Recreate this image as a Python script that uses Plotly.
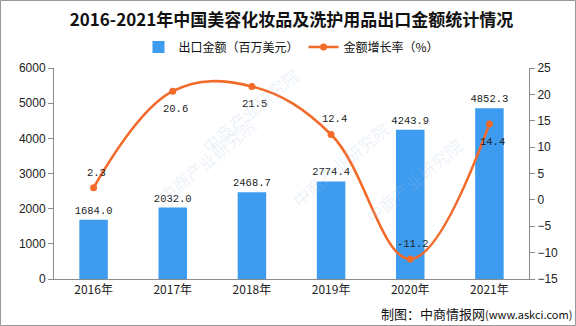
import plotly.graph_objects as go

# 出口金额与增长率数据
years = ["2016年", "2017年", "2018年", "2019年", "2020年", "2021年"]
export_value = [1684.0, 2032.0, 2468.7, 2774.4, 4243.9, 4852.3]
growth_rate = [2.3, 20.6, 21.5, 12.4, -11.2, 14.4]
rate_label_above = [True, False, False, True, True, False]

BAR_COLOR = "#3d9bf0"
LINE_COLOR = "#f26b2a"
AXIS_COLOR = "#8c8c8c"
LABEL_FONT = dict(family="Liberation Mono, monospace", size=10.5, color="#222")

fig = go.Figure()

fig.add_trace(go.Bar(
    x=years, y=export_value, name="出口金额（百万美元）",
    marker=dict(color=BAR_COLOR, line=dict(width=0)),
    width=0.36,
    text=[f"{v:.1f}" for v in export_value], textposition="outside",
    constraintext="none", textfont=LABEL_FONT,
    cliponaxis=False,
))

fig.add_trace(go.Scatter(
    x=years, y=growth_rate, name="金额增长率（%）", yaxis="y2",
    mode="lines+markers",
    line=dict(color=LINE_COLOR, width=2.6, shape="spline", smoothing=1.1),
    marker=dict(color=LINE_COLOR, size=7),
    cliponaxis=False,
))

# 左 54px, 右 47px, 上 68px, 下 47px → 绘图区 475 x 211
W, H = 576, 326
ML, MR, MT, MB = 54, 47, 68, 47
pw, ph = W - ML - MR, H - MT - MB

def px(x):
    return (x - ML) / pw

def py(y):
    return (H - MB - y) / ph

annotations = [
    dict(text="制图：中商情报网<span style='font-size:11px'>(www.askci.com)</span>",
         xref="paper", yref="paper", x=px(574), y=py(313),
         xanchor="right", yanchor="middle", showarrow=False,
         font=dict(family="Noto Sans CJK SC", size=13, color="#111")),
]

# 增长率数值标签
for yr, rate, above in zip(years, growth_rate, rate_label_above):
    annotations.append(dict(
        text=f"{rate:.1f}", x=yr, y=rate, xref="x", yref="y2",
        showarrow=False, xshift=3, yshift=15 if above else -18,
        font=LABEL_FONT,
    ))

# 背景水印
for wx, wy in [(150, 160), (340, 215), (470, 130), (250, 60)]:
    annotations.append(dict(
        text="中商产业研究院", xref="paper", yref="paper", x=px(wx), y=py(wy),
        showarrow=False, textangle=-40,
        font=dict(family="Noto Sans CJK SC", size=17, color="rgba(170,195,225,0.22)"),
    ))

fig.update_layout(
    width=W, height=H,
    margin=dict(l=ML, r=MR, t=MT, b=MB),
    paper_bgcolor="white", plot_bgcolor="white",
    title=dict(text="<b>2016-2021年中国美容化妆品及洗护用品出口金额统计情况</b>",
               x=0.5, xref="paper", xanchor="center", y=1 - 20 / H, yanchor="middle",
               font=dict(family="Noto Sans CJK SC", size=17, color="#111")),
    legend=dict(orientation="h", x=0.5, xanchor="center", y=py(47), yanchor="middle",
                font=dict(family="Noto Sans CJK SC", size=12, color="#111"),
                bgcolor="rgba(0,0,0,0)", traceorder="normal", itemwidth=30),
    font=dict(family="Liberation Sans, Arial", size=12, color="#222"),
    xaxis=dict(showline=True, linecolor=AXIS_COLOR, linewidth=1, ticks="",
               showgrid=False, tickfont=dict(family="Noto Sans CJK SC", size=12, color="#222")),
    yaxis=dict(range=[0, 6000], dtick=1000, showgrid=False, zeroline=False,
               showline=True, linecolor=AXIS_COLOR, linewidth=1,
               ticks="outside", ticklen=5, tickcolor=AXIS_COLOR,
               tickfont=dict(size=12, color="#222")),
    yaxis2=dict(range=[-15, 25], dtick=5, overlaying="y", side="right",
                showgrid=False, zeroline=False,
                showline=True, linecolor=AXIS_COLOR, linewidth=1,
                ticks="outside", ticklen=5, tickcolor=AXIS_COLOR,
                tickfont=dict(size=12, color="#222")),
    annotations=annotations,
    shapes=[dict(type="rect", xref="paper", yref="paper",
                 x0=px(0.5), x1=px(W - 0.5), y0=py(0.5), y1=py(H - 0.5),
                 line=dict(color="#999", width=1), layer="below")],
    showlegend=True,
)

fig.write_html("out.html")
